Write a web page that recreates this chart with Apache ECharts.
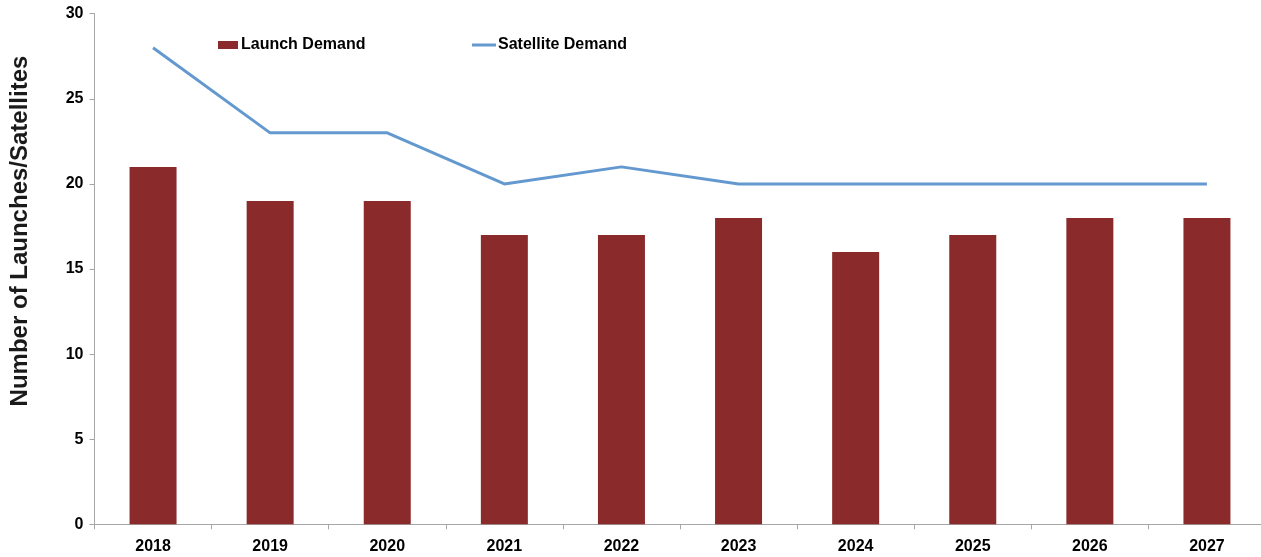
<!DOCTYPE html>
<html>
<head>
<meta charset="utf-8">
<script src="https://cdn.jsdelivr.net/npm/echarts@6/dist/echarts.min.js"></script>
<style>
  html, body { margin: 0; padding: 0; background: #fff; overflow: hidden; }
  /* plot area runs a few pixels past the right edge of the window */
  #chart { width: 1266px; height: 557px; }
</style>
</head>
<body>
<div id="chart"></div>
<script>
// Launch and satellite demand by year
const years = ['2018', '2019', '2020', '2021', '2022', '2023', '2024', '2025', '2026', '2027'];
const launchDemand = [21, 19, 19, 17, 17, 18, 16, 17, 18, 18];
const satelliteDemand = [28, 23, 23, 20, 21, 20, 20, 20, 20, 20];
const yTicks = [0, 5, 10, 15, 20, 25, 30];

const FONT = '"Liberation Sans", Arial, Helvetica, sans-serif';
const axisGray = '#a6a6a6';
const labelStyle = { color: '#000', fontWeight: 'bold', fontSize: 16, fontFamily: FONT };

const chart = echarts.init(document.getElementById('chart'), null, { renderer: 'canvas' });
chart.setOption({
  animation: false,
  backgroundColor: '#ffffff',
  textStyle: { fontFamily: FONT },
  grid: { left: 94.5, right: 0.5, top: 13.7, bottom: 32.7, containLabel: false },
  legend: [
    {
      data: [{ name: 'Launch Demand', icon: 'rect' }],
      left: 213, top: 32, padding: 5,
      itemWidth: 20, itemHeight: 8,
      textStyle: Object.assign({ padding: [0, 0, 0, -2] }, labelStyle)
    },
    {
      data: [{ name: 'Satellite Demand', icon: 'rect' }],
      left: 467, top: 32, padding: 5,
      itemWidth: 24, itemHeight: 3,
      textStyle: Object.assign({ padding: [0, 0, 0, -3] }, labelStyle)
    }
  ],
  xAxis: {
    type: 'category',
    data: years,
    boundaryGap: true,
    axisLine: { lineStyle: { color: axisGray, width: 1 } },
    axisTick: { show: true, alignWithLabel: false, length: 5, lineStyle: { color: axisGray } },
    axisLabel: Object.assign({ margin: 14, interval: 0 }, labelStyle),
    splitLine: { show: false }
  },
  yAxis: {
    type: 'value',
    min: yTicks[0],
    max: yTicks[yTicks.length - 1],
    interval: 5,
    axisLine: { show: true, lineStyle: { color: axisGray, width: 1 } },
    axisTick: { show: true, length: 5, lineStyle: { color: axisGray } },
    axisLabel: Object.assign({ margin: 11 }, labelStyle),
    splitLine: { show: false }
  },
  series: [
    {
      name: 'Launch Demand',
      type: 'bar',
      data: launchDemand,
      barWidth: 47,
      itemStyle: { color: '#8b2a2a' }
    },
    {
      name: 'Satellite Demand',
      type: 'line',
      data: satelliteDemand,
      symbol: 'none',
      showSymbol: false,
      lineStyle: { color: '#6499d0', width: 3 },
      itemStyle: { color: '#6499d0' }
    }
  ],
  graphic: [
    {
      type: 'text',
      x: 20, y: 231,
      rotation: Math.PI / 2,
      style: {
        text: 'Number of Launches/Satellites',
        fill: '#1a1a1a',
        font: 'bold 24px ' + FONT,
        align: 'center',
        verticalAlign: 'middle'
      }
    }
  ]
});
</script>
</body>
</html>
